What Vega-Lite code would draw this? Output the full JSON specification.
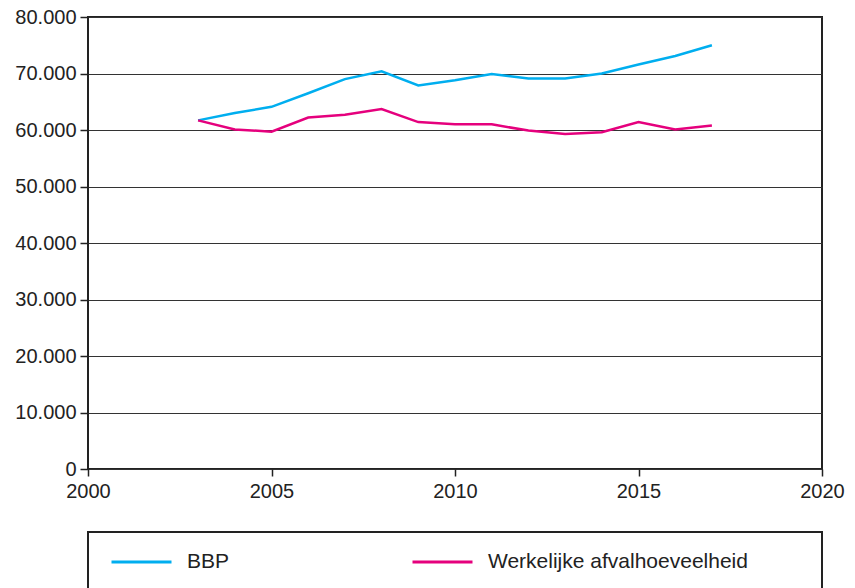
{
  "$schema": "https://vega.github.io/schema/vega-lite/v6.json",
  "autosize": {"type": "none"},
  "padding": {"left": 88, "top": 17, "right": 33, "bottom": 119},
  "width": 734,
  "height": 452,
  "background": "white",
  "config": {
    "font": "Liberation Sans",
    "view": {"stroke": "#222", "strokeWidth": 2},
    "axis": {
      "labelFont": "Liberation Sans",
      "labelFontSize": 20,
      "labelColor": "#222",
      "tickColor": "#222",
      "tickWidth": 1.5,
      "domain": false,
      "gridColor": "#333",
      "gridWidth": 1.2,
      "gridOpacity": 1,
      "title": null
    },
    "legend": {
      "orient": "none",
      "legendX": 0,
      "legendY": 515,
      "direction": "horizontal",
      "strokeColor": "#222",
      "strokeWidth": 2,
      "padding": 20,
      "clipHeight": 20,
      "symbolType": "stroke",
      "symbolSize": 3600,
      "symbolStrokeWidth": 3,
      "symbolOffset": 2,
      "labelFont": "Liberation Sans",
      "labelFontSize": 21,
      "labelColor": "#222",
      "labelOffset": 14,
      "labelLimit": 400,
      "columnPadding": 179,
      "titleOrient": "right",
      "titleFontSize": 20,
      "titlePadding": 54
    }
  },
  "data": {
    "values": [
      {"year": 2003, "series": "BBP", "value": 61700},
      {"year": 2004, "series": "BBP", "value": 63000},
      {"year": 2005, "series": "BBP", "value": 64100},
      {"year": 2006, "series": "BBP", "value": 66500},
      {"year": 2007, "series": "BBP", "value": 69000},
      {"year": 2008, "series": "BBP", "value": 70400},
      {"year": 2009, "series": "BBP", "value": 67900},
      {"year": 2010, "series": "BBP", "value": 68800},
      {"year": 2011, "series": "BBP", "value": 69900},
      {"year": 2012, "series": "BBP", "value": 69100},
      {"year": 2013, "series": "BBP", "value": 69100},
      {"year": 2014, "series": "BBP", "value": 70000},
      {"year": 2015, "series": "BBP", "value": 71600},
      {"year": 2016, "series": "BBP", "value": 73100},
      {"year": 2017, "series": "BBP", "value": 75000},
      {"year": 2003, "series": "Werkelijke afvalhoeveelheid", "value": 61700},
      {"year": 2004, "series": "Werkelijke afvalhoeveelheid", "value": 60100},
      {"year": 2005, "series": "Werkelijke afvalhoeveelheid", "value": 59700},
      {"year": 2006, "series": "Werkelijke afvalhoeveelheid", "value": 62200},
      {"year": 2007, "series": "Werkelijke afvalhoeveelheid", "value": 62700},
      {"year": 2008, "series": "Werkelijke afvalhoeveelheid", "value": 63700},
      {"year": 2009, "series": "Werkelijke afvalhoeveelheid", "value": 61400},
      {"year": 2010, "series": "Werkelijke afvalhoeveelheid", "value": 61000},
      {"year": 2011, "series": "Werkelijke afvalhoeveelheid", "value": 61000},
      {"year": 2012, "series": "Werkelijke afvalhoeveelheid", "value": 59900},
      {"year": 2013, "series": "Werkelijke afvalhoeveelheid", "value": 59300},
      {"year": 2014, "series": "Werkelijke afvalhoeveelheid", "value": 59600},
      {"year": 2015, "series": "Werkelijke afvalhoeveelheid", "value": 61400},
      {"year": 2016, "series": "Werkelijke afvalhoeveelheid", "value": 60100},
      {"year": 2017, "series": "Werkelijke afvalhoeveelheid", "value": 60800}
    ]
  },
  "mark": {"type": "line", "strokeWidth": 2.5},
  "encoding": {
    "x": {
      "field": "year",
      "type": "quantitative",
      "scale": {"domain": [2000, 2020], "nice": false, "zero": false},
      "axis": {"values": [2000, 2005, 2010, 2015, 2020], "format": "d", "grid": false, "tickSize": 7, "labelPadding": 5, "labelFlush": false}
    },
    "y": {
      "field": "value",
      "type": "quantitative",
      "scale": {"domain": [0, 80000], "nice": false},
      "axis": {"values": [0, 10000, 20000, 30000, 40000, 50000, 60000, 70000, 80000], "labelExpr": "replace(format(datum.value, ','), ',', '.')", "tickSize": 8, "labelPadding": 4, "grid": true}
    },
    "color": {
      "field": "series",
      "type": "nominal",
      "scale": {"domain": ["BBP", "Werkelijke afvalhoeveelheid"], "range": ["#00AEEF", "#E5007D"]},
      "legend": {"title": " "}
    }
  }
}
